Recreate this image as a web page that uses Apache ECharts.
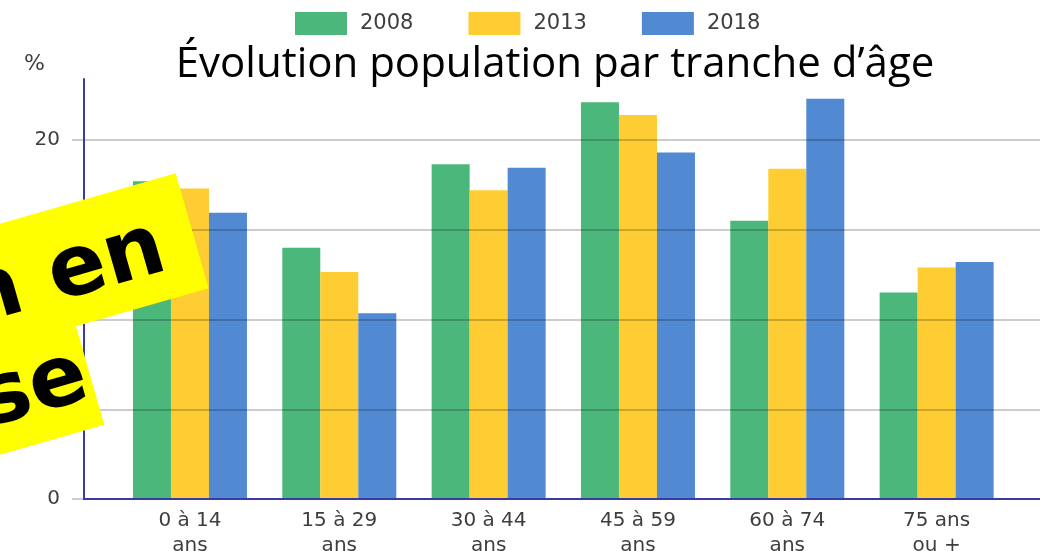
<!DOCTYPE html>
<html>
<head>
<meta charset="utf-8">
<script src="https://cdn.jsdelivr.net/npm/echarts@6/dist/echarts.min.js"></script>
<style>html,body{margin:0;padding:0;background:#fff}#c{width:1040px;height:551px}</style>
</head>
<body>
<div id="c"></div>
<script>
var categories = ['0 à 14\nans', '15 à 29\nans', '30 à 44\nans', '45 à 59\nans', '60 à 74\nans', '75 ans\nou +'];
var years = ['2008', '2013', '2018'];
var values2008 = [17.7, 14.0, 18.65, 22.1, 15.5, 11.5];
var values2013 = [17.3, 12.65, 17.2, 21.4, 18.4, 12.9];
var values2018 = [15.95, 10.35, 18.45, 19.3, 22.3, 13.2];
var yTicks = [0, 5, 10, 15, 20];
var titleText = 'Évolution population par tranche d\u2019âge';
var stickerLine1 = 'Population en';
var stickerLine2 = 'hausse';

var colors = ['#4bb77b', '#fecd33', '#5289d3'];
var yMax = 23.4;
var font = 'DejaVu Sans';
var txt = '#3e3e3e';

var chart = echarts.init(document.getElementById('c'));
var seriesData = [values2008, values2013, values2018];

chart.setOption({
  animation: false,
  backgroundColor: '#ffffff',
  color: colors,
  title: {
    text: titleText,
    left: 550,
    textAlign: 'center',
    top: 39,
    textStyle: {fontFamily: 'Open Sans', fontSize: 42, fontWeight: 'normal', color: '#000'}
  },
  legend: {
    data: years,
    left: 290,
    top: 7,
    icon: 'rect',
    itemWidth: 52,
    itemHeight: 23,
    itemGap: 55,
    textStyle: {fontFamily: font, fontSize: 21, color: txt, padding: [0, 0, 0, 8]}
  },
  grid: [
    {left: 84, right: 0, top: 79, bottom: 52, outerBoundsMode: 'none'},
    {left: 72, right: 0, top: 79, bottom: 52, outerBoundsMode: 'none'},
    {left: 115.3, right: 28.7, top: 79, bottom: 52, outerBoundsMode: 'none'}
  ],
  xAxis: [
    {gridIndex: 0, type: 'value', min: 0, max: 1, z: 4,
     axisLine: {show: true, lineStyle: {color: '#3a3aa6', width: 2}},
     axisTick: {show: false}, axisLabel: {show: false}, splitLine: {show: false}},
    {gridIndex: 1, type: 'value', min: 0, max: 1, show: false},
    {gridIndex: 2, type: 'category', data: categories,
     axisLine: {show: false}, axisTick: {show: false},
     axisLabel: {margin: 9, fontFamily: font, fontSize: 20, lineHeight: 25, color: txt, interval: 0}}
  ],
  yAxis: [
    {gridIndex: 0, type: 'value', min: 0, max: yMax, interval: 5, z: 4,
     name: '%', nameLocation: 'end', nameGap: 15,
     nameTextStyle: {fontFamily: font, fontSize: 22, color: txt, align: 'right', verticalAlign: 'middle', padding: [0, 39, 0, 0]},
     axisLine: {show: true, lineStyle: {color: '#3a3aa6', width: 2}},
     axisTick: {show: false},
     axisLabel: {margin: 24, fontFamily: font, fontSize: 20, color: txt, showMaxLabel: false,
       formatter: function (v) { return yTicks.indexOf(v) >= 0 ? String(v) : ''; }},
     splitLine: {show: false}},
    {gridIndex: 1, type: 'value', min: 0, max: yMax, interval: 5, z: 3,
     axisLine: {show: false}, axisTick: {show: false}, axisLabel: {show: false},
     splitLine: {show: true, showMaxLine: false, lineStyle: {color: 'rgba(0,0,0,0.2)', width: 2}}},
    {gridIndex: 2, type: 'value', min: 0, max: yMax, show: false}
  ],
  series: years.map(function (y, i) {
    return {
      name: y, type: 'bar', xAxisIndex: 2, yAxisIndex: 2,
      data: seriesData[i], barWidth: 38, barGap: '0%', z: 2,
      itemStyle: {color: colors[i]}
    };
  }),
  graphic: [{
    type: 'group',
    x: 175.7, y: 173.3,
    rotation: 16 * Math.PI / 180,
    z: 100, zlevel: 1,
    children: [
      {type: 'rect', z: 100, zlevel: 1, shape: {x: -700, y: 100, width: 700 - 138, height: 122}, style: {fill: '#ffff00'}},
      {type: 'rect', z: 101, zlevel: 1, shape: {x: -700, y: 0, width: 700, height: 119.5}, style: {fill: '#ffff00'}},
      {type: 'text', z: 102, zlevel: 1, x: -32, y: 68, style: {text: stickerLine1, align: 'right', verticalAlign: 'middle',
        font: 'bold 85px "DejaVu Sans"', fill: '#000'}},
      {type: 'text', z: 102, zlevel: 1, x: -142, y: 170, style: {text: stickerLine2, align: 'right', verticalAlign: 'middle',
        font: 'bold 85px "DejaVu Sans"', fill: '#000'}}
    ]
  }]
});
</script>
</body>
</html>
